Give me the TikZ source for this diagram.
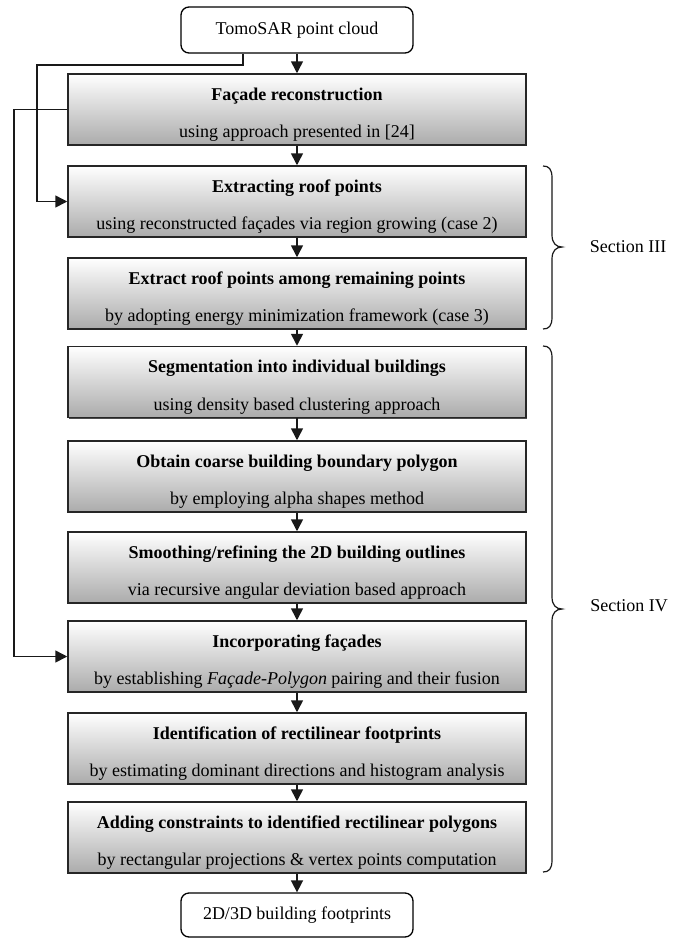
\documentclass[tikz,border=0pt]{standalone}
\usepackage{fontspec}
\setmainfont{Liberation Serif}
\usetikzlibrary{arrows.meta,shadows}
\begin{document}
\begin{tikzpicture}[x=1pt,y=-1pt,
  font=\fontsize{18}{21}\selectfont,
  box/.style={draw=black!85, line width=1.5pt, minimum width=458pt, minimum height=71pt, inner sep=0pt,
    top color=white, bottom color=black!33,
    drop shadow={shadow xshift=1.2pt, shadow yshift=-1.2pt, fill=black!70, opacity=1}},
  term/.style={draw=black, line width=1.3pt, rounded corners=8pt, minimum width=232pt, minimum height=46pt, inner sep=0pt, fill=white},
  arr/.style={line width=1.6pt, draw=black!90, -{Triangle[length=12pt,width=12pt]}},
  title/.style={font=\fontsize{18}{21}\selectfont\bfseries, inner sep=0pt, anchor=base},
  sub/.style={inner sep=0pt, anchor=base},
  brace/.style={line width=1.2pt, draw=black!90},
  seclabel/.style={inner sep=0pt}
]
\useasboundingbox (0,0) rectangle (684,938);

% terminals
\node[term] (top) at (297,30) {TomoSAR point cloud};
\node[term, minimum height=44pt] (bot) at (297,915) {2D/3D building footprints};

% process boxes
\node[box] (b1) at (297,109.5) {};
\node[box] (b2) at (297,201.5) {};
\node[box] (b3) at (297,293.5) {};
\node[box] (b4) at (297,382) {};
\node[box] (b5) at (297,476.5) {};
\node[box] (b6) at (297,567.5) {};
\node[box] (b7) at (297,656.5) {};
\node[box] (b8) at (297,748.5) {};
\node[box] (b9) at (297,837.5) {};

% texts
\node[title] (t1) at ([yshift=-27pt]b1.north) {Façade reconstruction};
\node[sub]   (s1) at ([yshift=8pt]b1.south) {using approach presented in [24]};
\node[title] (t2) at ([yshift=-27pt]b2.north) {Extracting roof points};
\node[sub]   (s2) at ([yshift=8pt]b2.south) {using reconstructed façades via region growing (case 2)};
\node[title] (t3) at ([yshift=-27pt]b3.north) {Extract roof points among remaining points};
\node[sub]   (s3) at ([yshift=8pt]b3.south) {by adopting energy minimization framework (case 3)};
\node[title] (t4) at ([yshift=-27pt]b4.north) {Segmentation into individual buildings};
\node[sub]   (s4) at ([yshift=8pt]b4.south) {using density based clustering approach};
\node[title] (t5) at ([yshift=-27pt]b5.north) {Obtain coarse building boundary polygon};
\node[sub]   (s5) at ([yshift=8pt]b5.south) {by employing alpha shapes method};
\node[title] (t6) at ([yshift=-27pt]b6.north) {Smoothing/refining the 2D building outlines};
\node[sub]   (s6) at ([yshift=8pt]b6.south) {via recursive angular deviation based approach};
\node[title] (t7) at ([yshift=-27pt]b7.north) {Incorporating façades};
\node[sub]   (s7) at ([yshift=8pt]b7.south) {by establishing \textit{Façade-Polygon} pairing and their fusion};
\node[title] (t8) at ([yshift=-27pt]b8.north) {Identification of rectilinear footprints};
\node[sub]   (s8) at ([yshift=8pt]b8.south) {by estimating dominant directions and histogram analysis};
\node[title] (t9) at ([yshift=-27pt]b9.north) {Adding constraints to identified rectilinear polygons};
\node[sub]   (s9) at ([yshift=8pt]b9.south) {by rectangular projections \& vertex points computation};

% main flow arrows
\draw[arr] (top.south) -- (b1.north);
\draw[arr] (b1.south) -- (b2.north);
\draw[arr] (b2.south) -- (b3.north);
\draw[arr] (b3.south) -- (b4.north);
\draw[arr] (b4.south) -- (b5.north);
\draw[arr] (b5.south) -- (b6.north);
\draw[arr] (b6.south) -- (b7.north);
\draw[arr] (b7.south) -- (b8.north);
\draw[arr] (b8.south) -- (b9.north);
\draw[arr] (b9.south) -- (bot.north);

% side connectors
\coordinate (k1) at (37,65);
\coordinate (k2) at (14,0);
\draw[arr] ([xshift=-54pt]top.south) |- (k1) |- (b2.west);
\draw[arr] (b1.west) -- (b1.west -| k2) |- (b7.west);

% braces
\draw[brace] (543,166) .. controls (549,166) and (552,169) .. (552,178)
  -- (552,235) .. controls (552,243) and (556,247) .. (562,247)
  .. controls (556,247) and (552,251) .. (552,259)
  -- (552,317) .. controls (552,326) and (549,329) .. (543,329);
\draw[brace] (543,346) .. controls (549,346) and (552,349) .. (552,358)
  -- (552,597) .. controls (552,605) and (556,609) .. (562,609)
  .. controls (556,609) and (552,613) .. (552,621)
  -- (552,860) .. controls (552,869) and (549,872) .. (543,872);

\node[seclabel] (sec3) at (628,247) {Section III};
\node[seclabel] (sec4) at (629,606) {Section IV};
\end{tikzpicture}
\end{document}
